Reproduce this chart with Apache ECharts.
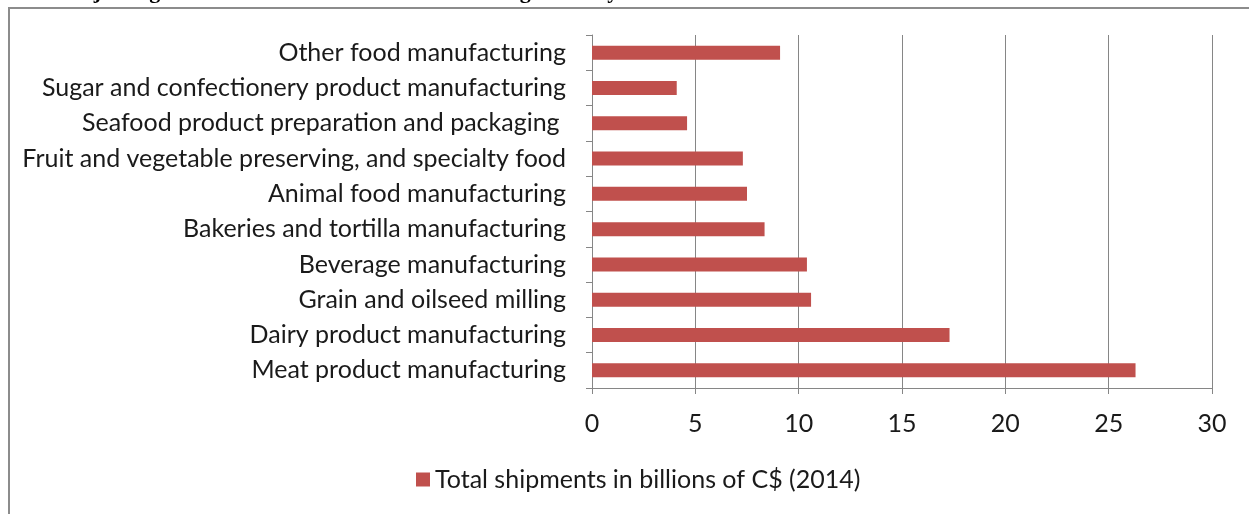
<!DOCTYPE html>
<html><head><meta charset="utf-8">
<script src="https://cdn.jsdelivr.net/npm/echarts@6/dist/echarts.min.js"></script>
<style>html,body{margin:0;padding:0;background:#fff}#c{width:1249px;height:514px}</style>
</head><body><div id="c"></div>
<script>
const categories = [
  "Meat product manufacturing",
  "Dairy product manufacturing",
  "Grain and oilseed milling",
  "Beverage manufacturing",
  "Bakeries and tortilla manufacturing",
  "Animal food manufacturing",
  "Fruit and vegetable preserving, and specialty food",
  "Seafood product preparation and packaging ",
  "Sugar and confectionery product manufacturing",
  "Other food manufacturing"
];
const shipments = [26.3, 17.3, 10.6, 10.4, 8.35, 7.5, 7.3, 4.6, 4.1, 9.1];
const seriesName = "Total shipments in billions of C$ (2014)";
const titleText = "Share of Major Segments in the Canadian Food Processing Industry";

const font = "Lato";
const chart = echarts.init(document.getElementById('c'), null, {renderer: 'canvas'});
chart.setOption({
  animation: false,
  backgroundColor: '#fff',
  graphic: [
    {type: 'rect', shape: {x: 9, y: 8, width: 1300, height: 600}, style: {fill: 'none', stroke: '#8c8c8c', lineWidth: 2}, silent: true, z: -1},
    {type: 'text', left: -22, top: -19, style: {text: titleText, font: 'bold 22px "Liberation Serif"', fill: '#000'}}
  ],
  grid: {left: 592, right: 37, top: 35, bottom: 126, containLabel: false},
  legend: {
    data: [seriesName], left: 411, top: 462, itemWidth: 14, itemHeight: 14, itemGap: 6,
    icon: 'rect',
    textStyle: {fontFamily: font, fontSize: 25, color: '#1a1a1a'}
  },
  xAxis: {
    type: 'value', min: 0, max: 30, interval: 5,
    axisLine: {show: true, lineStyle: {color: '#868686', width: 1}},
    axisTick: {show: true, length: 6, lineStyle: {color: '#868686'}},
    splitLine: {show: true, lineStyle: {color: '#868686', width: 1}},
    axisLabel: {fontFamily: font, fontSize: 25, color: '#1a1a1a', margin: 23}
  },
  yAxis: {
    type: 'category', data: categories,
    axisLine: {show: true, lineStyle: {color: '#868686', width: 1}},
    axisTick: {show: true, length: 6, lineStyle: {color: '#868686'}},
    axisLabel: {fontFamily: font, fontSize: 25, color: '#1a1a1a', margin: 26}
  },
  series: [{
    name: seriesName, type: 'bar', data: shipments, barWidth: 14,
    itemStyle: {color: '#C0504D'}
  }]
});
</script></body></html>
